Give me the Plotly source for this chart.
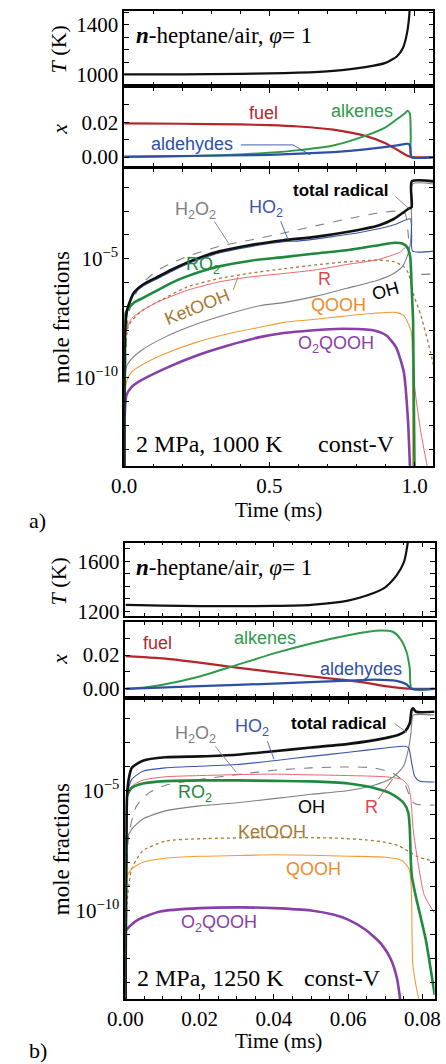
import plotly.graph_objects as go

W, H = 446, 1064

# ================= DATA =================
# ---- Panel a : 2 MPa, 1000 K ----
a_T_t = [0, 0.2, 0.4, 0.5, 0.6, 0.72, 0.83, 0.9, 0.94, 0.96, 0.974, 0.983, 0.99, 1.065]
a_T = [1000, 1001, 1004, 1008, 1014, 1029, 1059, 1093, 1147, 1213, 1333, 1512, 2400, 2700]

a_fuel_t = [0, 0.2, 0.4, 0.5, 0.6, 0.72, 0.83, 0.9, 0.94, 0.97, 0.99, 1.065]
a_fuel = [0.0194, 0.0192, 0.0188, 0.0184, 0.0176, 0.0158, 0.0122, 0.0080, 0.0042, 0.0012, 0.0, 0.0]
a_alk_t = [0, 0.1, 0.2, 0.33, 0.5, 0.6, 0.72, 0.83, 0.9, 0.94, 0.97, 0.976, 0.984, 0.987, 0.99, 1.065]
a_alk = [0, 0.0002, 0.0005, 0.001, 0.0025, 0.0040, 0.0067, 0.0122, 0.0171, 0.0219, 0.0257, 0.0267, 0.025, 0.012, 0.0, 0.0]
a_ald_t = [0, 0.2, 0.5, 0.72, 0.83, 0.94, 0.97, 0.98, 0.985, 0.99, 1.065]
a_ald = [0.0002, 0.0006, 0.0013, 0.0029, 0.0044, 0.0067, 0.0076, 0.0076, 0.006, 0.0, 0.0]

# log10 of mole fraction
a_tot_t = [0, 0.003, 0.011, 0.033, 0.065, 0.109, 0.163, 0.218, 0.272, 0.327, 0.436, 0.549, 0.658, 0.767, 0.876, 0.93, 0.963, 0.979, 0.99, 0.9905, 1.065]
a_tot = [-14, -8.0, -7.1, -6.43, -6.08, -5.8, -5.46, -5.15, -4.9, -4.69, -4.42, -4.22, -4.08, -3.875, -3.6, -3.32, -3.04, -2.9, -2.83, -1.75, -1.75]
a_ho2_t = [0, 0.003, 0.011, 0.033, 0.065, 0.109, 0.163, 0.218, 0.272, 0.327, 0.436, 0.549, 0.603, 0.712, 0.821, 0.93, 0.985, 0.99, 0.993, 1.065]
a_ho2 = [-14, -8.2, -7.2, -6.5, -6.15, -5.87, -5.53, -5.22, -4.97, -4.76, -4.49, -4.28, -4.25, -4.08, -3.875, -3.57, -3.32, -4.0, -4.68, -4.68]
a_h2o2_t = [0, 0.006, 0.011, 0.022, 0.054, 0.109, 0.163, 0.218, 0.327, 0.436, 0.549, 0.658, 0.767, 0.876, 0.952, 0.968, 0.979, 0.985, 0.99, 1.065]
a_h2o2 = [-14, -9.0, -7.7, -6.98, -6.15, -5.53, -5.18, -4.9, -4.48, -4.21, -3.92, -3.62, -3.33, -3.08, -3.0, -3.11, -4.08, -5.19, -5.61, -5.64]
a_ro2_t = [0, 0.003, 0.005, 0.033, 0.065, 0.109, 0.163, 0.218, 0.272, 0.327, 0.436, 0.549, 0.658, 0.767, 0.876, 0.93, 0.958, 0.974, 0.985, 0.99, 0.995, 1.0]
a_ro2 = [-14, -8.0, -7.26, -6.85, -6.64, -6.36, -6.01, -5.73, -5.5, -5.32, -5.08, -4.93, -4.78, -4.64, -4.43, -4.33, -4.36, -4.5, -4.92, -6.2, -7.6, -14]
a_r_t = [0, 0.0076, 0.026, 0.059, 0.109, 0.218, 0.327, 0.436, 0.549, 0.658, 0.767, 0.876, 0.952, 0.968, 0.979, 0.985, 0.99, 1.0, 1.022, 1.045]
a_r = [-14, -8.0, -7.5, -7.2, -6.85, -6.32, -5.97, -5.76, -5.62, -5.47, -5.24, -5.03, -4.71, -4.53, -4.64, -5.0, -6.0, -10.3, -12.3, -13.8]
a_ket_t = [0, 0.004, 0.015, 0.059, 0.14, 0.218, 0.327, 0.436, 0.549, 0.658, 0.767, 0.876, 0.93, 0.963, 0.979, 0.995, 1.022, 1.055, 1.065]
a_ket = [-14, -9.0, -7.8, -7.2, -6.65, -6.18, -5.83, -5.6, -5.42, -5.26, -5.125, -5.06, -5.125, -5.33, -5.61, -6.44, -7.39, -8.92, -9.47]
a_oh_t = [0, 0.0076, 0.026, 0.059, 0.14, 0.25, 0.358, 0.467, 0.549, 0.658, 0.767, 0.876, 0.93, 0.958, 0.974, 0.985, 0.99, 0.994, 1.065]
a_oh = [-14, -9.54, -9.19, -8.85, -8.29, -7.74, -7.32, -6.97, -6.84, -6.58, -6.24, -5.89, -5.61, -5.33, -4.92, -4.43, -3.53, -1.86, -1.86]
a_qooh_t = [0, 0.0076, 0.026, 0.059, 0.14, 0.25, 0.358, 0.467, 0.549, 0.642, 0.75, 0.86, 0.936, 0.963, 0.979, 0.989, 0.993]
a_qooh = [-14, -10.17, -9.75, -9.47, -8.99, -8.5, -8.15, -7.875, -7.67, -7.56, -7.42, -7.29, -7.25, -7.39, -7.74, -8.08, -14]
a_o2q_t = [0, 0.0076, 0.026, 0.059, 0.14, 0.25, 0.358, 0.467, 0.549, 0.642, 0.75, 0.86, 0.903, 0.936, 0.963, 0.977, 0.985]
a_o2q = [-14, -10.72, -10.375, -10.1, -9.61, -9.06, -8.64, -8.29, -8.12, -8.01, -7.94, -8.01, -8.22, -8.71, -9.75, -11.7, -14]

# ---- Panel b : 2 MPa, 1250 K ----
b_T_t = [0, 0.01, 0.02, 0.03, 0.04, 0.05, 0.06, 0.065, 0.07, 0.073, 0.075, 0.076, 0.0765, 0.078, 0.0833]
b_T = [1253, 1246, 1243, 1242, 1244, 1253, 1287, 1327, 1393, 1486, 1592, 1738, 1900, 2600, 2750]

b_fuel_t = [0, 0.005, 0.01, 0.02, 0.03, 0.04, 0.05, 0.06, 0.065, 0.07, 0.075, 0.078, 0.0833]
b_fuel = [0.0194, 0.0188, 0.0180, 0.0155, 0.0126, 0.0099, 0.0074, 0.0050, 0.0035, 0.0016, 0.0003, 0.0, 0.0]
b_alk_t = [0, 0.005, 0.01, 0.02, 0.03, 0.04, 0.05, 0.06, 0.065, 0.069, 0.072, 0.074, 0.0757, 0.0766, 0.0771, 0.0833]
b_alk = [0, 0.0008, 0.0024, 0.0073, 0.0141, 0.021, 0.0269, 0.0318, 0.0337, 0.0345, 0.0338, 0.0298, 0.022, 0.0122, 0.0, 0.0]
b_ald_t = [0, 0.02, 0.04, 0.06, 0.067, 0.073, 0.0757, 0.077, 0.0833]
b_ald = [0, 0.0016, 0.0031, 0.0049, 0.0055, 0.0047, 0.0027, 0.0, 0.0]

b_tot_t = [0, 0.00043, 0.00086, 0.0017, 0.0047, 0.0107, 0.02, 0.03, 0.04, 0.05, 0.0601, 0.07, 0.0736, 0.0753, 0.0766, 0.0771, 0.0775, 0.0783, 0.0833]
b_tot = [-14, -5.22, -4.53, -4.05, -3.75, -3.61, -3.57, -3.5, -3.36, -3.2, -3.05, -2.81, -2.67, -2.53, -2.19, -1.64, -1.57, -1.71, -1.71]
b_ho2_t = [0, 0.00043, 0.0017, 0.0047, 0.0107, 0.02, 0.03, 0.04, 0.05, 0.0601, 0.07, 0.0753, 0.0763, 0.0771, 0.0779, 0.0792, 0.0833]
b_ho2 = [-14, -5.3, -4.53, -4.19, -4.05, -3.98, -3.91, -3.75, -3.57, -3.40, -3.22, -3.15, -3.22, -3.84, -4.39, -4.6, -4.64]
b_r_t = [0, 0.00043, 0.0017, 0.0047, 0.0107, 0.02, 0.03, 0.04, 0.05, 0.0601, 0.07, 0.0745, 0.0762, 0.0769, 0.0775, 0.0788, 0.0805, 0.0833]
b_r = [-14, -5.22, -4.81, -4.56, -4.42, -4.37, -4.33, -4.31, -4.34, -4.37, -4.42, -4.53, -4.81, -5.36, -6.6, -7.98, -9.35, -10.1]
b_ro2_t = [0, 0.0003, 0.00043, 0.0017, 0.0047, 0.0107, 0.02, 0.03, 0.04, 0.05, 0.0601, 0.0668, 0.0719, 0.0749, 0.0762, 0.0766, 0.0769, 0.0772, 0.0783, 0.0809, 0.0833]
b_ro2 = [-14, -6.5, -5.22, -4.88, -4.7, -4.6, -4.57, -4.57, -4.59, -4.61, -4.7, -4.88, -5.15, -5.5, -5.91, -6.6, -7.98, -8.6, -9.45, -11.2, -13.5]
b_h2o2_t = [0, 0.00086, 0.003, 0.0064, 0.0107, 0.02, 0.03, 0.04, 0.05, 0.0601, 0.0668, 0.0719, 0.0749, 0.0762, 0.0771, 0.0783, 0.0833]
b_h2o2 = [-14, -6.87, -5.63, -5.08, -4.78, -4.53, -4.33, -4.15, -4.05, -4.01, -4.05, -4.26, -4.6, -5.08, -5.43, -5.56, -5.6]
b_oh_t = [0, 0.00026, 0.00043, 0.0017, 0.0047, 0.0107, 0.02, 0.03, 0.04, 0.05, 0.0601, 0.0668, 0.0719, 0.0749, 0.0762, 0.0769, 0.0772, 0.0775, 0.0833]
b_oh = [-14, -7.8, -7.01, -6.6, -6.18, -5.84, -5.63, -5.5, -5.33, -5.15, -4.99, -4.78, -4.46, -3.98, -3.29, -2.6, -2.05, -1.85, -1.85]
b_ket_t = [0, 0.00043, 0.0017, 0.0047, 0.0107, 0.02, 0.04, 0.056, 0.065, 0.07, 0.0736, 0.0762, 0.0788, 0.0833]
b_ket = [-14, -9.63, -8.25, -7.5, -7.1, -7.0, -6.95, -6.97, -7.05, -7.15, -7.29, -7.52, -7.75, -7.95]
b_qooh_t = [0, 0.00026, 0.0017, 0.0047, 0.0107, 0.02, 0.03, 0.04, 0.05, 0.0601, 0.07, 0.0745, 0.0764, 0.0770, 0.0774, 0.0785, 0.0795]
b_qooh = [-14, -8.66, -8.25, -7.98, -7.81, -7.73, -7.7, -7.67, -7.69, -7.73, -7.77, -7.91, -8.25, -9.0, -12.2, -13.3, -14]
b_o2q_t = [0, 0.00005, 0.00342, 0.00937, 0.02, 0.0307, 0.04, 0.05, 0.0562, 0.06, 0.0647, 0.069, 0.0715, 0.0732, 0.074]
b_o2q = [-14, -10.85, -10.37, -10.03, -9.89, -9.86, -9.89, -9.99, -10.17, -10.37, -10.79, -11.4, -12.02, -12.85, -13.68]

# axis tick labels
T_a_ticks = [1000, 1400]
T_b_ticks = [1200, 1600]
x_ticks = [0, 0.02]
log_label_ticks = [1e-10, 1e-5]
log_label_text = ["10<sup>\u221210</sup>", "10<sup>\u22125</sup>"]

# ================= STYLE / LAYOUT =================
C_BLACK = "#111111"
C_BLUE = "#3a55a8"
C_GREEN = "#1f8a3e"
C_RED = "#e8666e"
C_FUEL = "#b3262c"
C_ORANGE = "#f39a3c"
C_PURPLE = "#8a3fa8"
C_BROWN = "#a57a35"
C_GRAY = "#7f7f7f"
C_XGREEN = "#2f9a4a"
C_XBLUE = "#2d4fa6"

SERIF = "Liberation Serif"
SANS = "Liberation Sans"


def xp(p):
    return p / W


def yp(p):
    return 1 - p / H


fig = go.Figure()


def add(t, v, ax, color, width, dash="solid", log=False, shape="spline"):
    yv = [10 ** e for e in v] if log else v
    n = "" if ax == 1 else str(ax)
    fig.add_trace(go.Scatter(
        x=t, y=yv, mode="lines", xaxis="x" + n, yaxis="y" + n,
        line=dict(color=color, width=width, dash=dash, shape=shape, smoothing=0.6),
        hoverinfo="skip", showlegend=False))


# panel a
add(a_T_t, a_T, 1, C_BLACK, 2.2)
add(a_fuel_t, a_fuel, 2, C_FUEL, 2.2)
add(a_alk_t, a_alk, 2, C_XGREEN, 2.0)
add(a_ald_t, a_ald, 2, C_XBLUE, 2.2)
add(a_h2o2_t, a_h2o2, 3, C_GRAY, 1.1, "dash", True)
add(a_ket_t, a_ket, 3, C_BROWN, 1.3, "dot", True)
add(a_oh_t, a_oh, 3, C_GRAY, 1.1, "solid", True)
add(a_qooh_t, a_qooh, 3, C_ORANGE, 1.1, "solid", True)
add(a_r_t, a_r, 3, C_RED, 1.0, "solid", True)
add(a_ho2_t, a_ho2, 3, C_BLUE, 1.1, "solid", True)
add(a_o2q_t, a_o2q, 3, C_PURPLE, 2.6, "solid", True)
add(a_ro2_t, a_ro2, 3, C_GREEN, 2.6, "solid", True)
add(a_tot_t, a_tot, 3, C_BLACK, 2.6, "solid", True)

# panel b
add(b_T_t, b_T, 4, C_BLACK, 2.2)
add(b_fuel_t, b_fuel, 5, C_FUEL, 2.2)
add(b_alk_t, b_alk, 5, C_XGREEN, 2.0)
add(b_ald_t, b_ald, 5, C_XBLUE, 2.2)
add(b_h2o2_t, b_h2o2, 6, C_GRAY, 1.1, "dash", True)
add(b_ket_t, b_ket, 6, C_BROWN, 1.3, "dot", True)
add(b_oh_t, b_oh, 6, C_GRAY, 1.1, "solid", True)
add(b_qooh_t, b_qooh, 6, C_ORANGE, 1.1, "solid", True)
add(b_r_t, b_r, 6, C_RED, 1.0, "solid", True)
add(b_ho2_t, b_ho2, 6, C_BLUE, 1.1, "solid", True)
add(b_o2q_t, b_o2q, 6, C_PURPLE, 2.6, "solid", True)
add(b_ro2_t, b_ro2, 6, C_GREEN, 2.6, "solid", True)
add(b_tot_t, b_tot, 6, C_BLACK, 2.6, "solid", True)

tickfont = dict(family=SERIF, size=21, color="black")


def xaxis(dom, rng, showlabels, major, minor, fmt):
    return dict(domain=dom, range=rng, showline=True, linecolor="black", linewidth=1.6,
                mirror="allticks", ticks="inside", ticklen=5, tickwidth=1.2, tickcolor="black",
                dtick=major, tick0=0, tickformat=fmt, showticklabels=showlabels,
                ticklabelstandoff=0,
                tickfont=tickfont, showgrid=False, zeroline=False,
                minor=dict(ticks="inside", ticklen=3, tickwidth=1, tickcolor="black", dtick=minor, tick0=0,
                           showgrid=False))


def lin_y(dom, rng, vals, fmt, minor, anchor):
    return dict(domain=dom, range=rng, anchor=anchor, showline=True, linecolor="black", linewidth=1.6,
                mirror="allticks", ticks="inside", ticklen=5, tickwidth=1.2, tickcolor="black",
                tickvals=vals, tickformat=fmt, tickfont=tickfont, showgrid=False, zeroline=False,
                minor=dict(ticks="inside", ticklen=5, tickwidth=1.2, tickcolor="black", dtick=minor,
                           tick0=0, showgrid=False))


dec = [10.0 ** k for k in range(-13, -1)]


def log_y(dom, rng, anchor):
    return dict(domain=dom, range=rng, type="log", anchor=anchor, showline=True, linecolor="black",
                linewidth=1.6, mirror="allticks", ticks="inside", ticklen=5, tickwidth=1.2,
                tickcolor="black", tickmode="array", tickvals=log_label_ticks, ticktext=log_label_text,
                tickfont=tickfont, showgrid=False, zeroline=False,
                minor=dict(ticks="inside", ticklen=5, tickwidth=1.2, tickcolor="black",
                           tickmode="array", tickvals=dec, showgrid=False))


xa_dom = [xp(112), xp(438)]
xb_dom = [xp(113.3), xp(439.3)]

fig.update_layout(
    width=W, height=H, margin=dict(l=0, r=0, t=0, b=0),
    paper_bgcolor="white", plot_bgcolor="white", showlegend=False,
    xaxis=dict(xaxis(xa_dom, [0, 1.065], False, 0.5, 0.1, ".1f"), anchor="y"),
    xaxis2=dict(xaxis(xa_dom, [0, 1.065], False, 0.5, 0.1, ".1f"), anchor="y2"),
    xaxis3=dict(xaxis(xa_dom, [0, 1.065], True, 0.5, 0.1, ".1f"), anchor="y3"),
    xaxis4=dict(xaxis(xb_dom, [0, 0.0833], False, 0.02, 0.005, ".2f"), anchor="y4"),
    xaxis5=dict(xaxis(xb_dom, [0, 0.0833], False, 0.02, 0.005, ".2f"), anchor="y5"),
    xaxis6=dict(xaxis(xb_dom, [0, 0.0833], True, 0.02, 0.005, ".2f"), anchor="y6"),
    yaxis=lin_y([yp(85), yp(11)], [920, 1512], T_a_ticks, "d", 100, "x"),
    yaxis2=lin_y([yp(167), yp(89)], [-0.005, 0.0396], x_ticks, ".2f", 0.01, "x2"),
    yaxis3=log_y([yp(470), yp(170)], [-13.72, -1.22], "x3"),
    yaxis4=lin_y([yp(620.7), yp(546.7)], [1163, 1751], T_b_ticks, "d", 100, "x4"),
    yaxis5=lin_y([yp(701.7), yp(626.7)], [-0.0045, 0.0396], x_ticks, ".2f", 0.01, "x5"),
    yaxis6=log_y([yp(1006.7), yp(705)], [-13.68, -1.21], "x6"),
)

ann = []


def A(text, x, y, size=18, color="black", family=SANS, angle=0, xanchor="center", weight="normal",
      style="normal"):
    ann.append(dict(text=text, x=xp(x), y=yp(y), xref="paper", yref="paper", showarrow=False,
                    xanchor=xanchor, yanchor="middle", textangle=angle,
                    font=dict(family=family, size=size, color=color, weight=weight, style=style)))


shapes = []


def L(pts, color, width=0.9):
    path = "M " + " L ".join(f"{xp(a)},{yp(b)}" for a, b in pts)
    shapes.append(dict(type="path", path=path, xref="paper", yref="paper",
                       line=dict(color=color, width=width)))


title = "<b><i>n</i></b>-heptane/air, <i>\u03c6</i>= 1"
# ---- panel a texts ----
A(title, 122, 36, 23, family=SERIF, xanchor="left")
A("<i>T</i> (K)", 43, 50, 22, family=SERIF, angle=-90)
A("x", 43, 130, 22, family=SERIF, angle=-90, style="italic")
A("mole fractions", 46, 320, 23, family=SERIF, angle=-90)
A("Time (ms)", 275, 514, 21, family=SERIF)
A("a)", 9, 524, 22, family=SERIF, xanchor="left")
A("fuel", 259, 114, 18, C_FUEL)
A("alkenes", 363, 112, 18, C_XGREEN)
A("aldehydes", 183, 145, 18, C_XBLUE)
L([(235, 146), (290, 146), (308, 156)], C_XBLUE)
A("total radical", 340, 192, 17, "black", weight="bold")
L([(398, 198), (412, 210)], C_GRAY)
A("H<sub>2</sub>O<sub>2</sub>", 187, 212, 18, C_GRAY)
L([(207, 223), (222, 245)], C_GRAY)
A("HO<sub>2</sub>", 262, 210, 18, C_BLUE)
L([(277, 223), (285, 242)], C_BLUE)
A("RO<sub>2</sub>", 195, 268, 18, C_GREEN)
A("R", 323, 281, 18, "#e0474f")
A("KetOOH", 189, 309, 18, C_BROWN, angle=-22)
L([(227, 292), (232, 279)], C_BROWN)
A("OH", 387, 293, 18, "black", angle=-15)
A("QOOH", 338, 307, 18, "#f08a2c")
A("O<sub>2</sub>QOOH", 335, 347, 18, C_PURPLE)
A("2 MPa, 1000 K", 202, 447, 24, family=SERIF)
A("const-V", 357, 447, 24, family=SERIF)

# ---- panel b texts ----
A(title, 122, 572, 23, family=SERIF, xanchor="left")
A("<i>T</i> (K)", 43, 586, 22, family=SERIF, angle=-90)
A("x", 43, 664, 22, family=SERIF, angle=-90, style="italic")
A("mole fractions", 46, 856, 23, family=SERIF, angle=-90)
A("Time (ms)", 275, 1049, 21, family=SERIF)
A("b)", 9, 1058, 22, family=SERIF, xanchor="left")
A("fuel", 147, 648, 18, C_FUEL)
A("alkenes", 260, 643, 18, C_XGREEN)
A("aldehydes", 362, 674, 18, C_XBLUE)
A("total radical", 338, 729, 17, "black", weight="bold")
L([(397, 729), (410, 738)], C_GRAY)
A("H<sub>2</sub>O<sub>2</sub>", 187, 740, 18, C_GRAY)
L([(208, 752), (230, 778)], C_GRAY)
A("HO<sub>2</sub>", 247, 733, 18, C_BLUE)
L([(263, 747), (270, 765)], C_BLUE)
A("RO<sub>2</sub>", 187, 800, 18, C_GREEN)
A("OH", 309, 813, 18, "black")
A("R", 373, 813, 18, "#e0474f")
L([(380, 805), (395, 785)], "#e0474f")
A("KetOOH", 268, 838, 18, C_BROWN)
A("QOOH", 312, 876, 18, "#f08a2c")
A("O<sub>2</sub>QOOH", 212, 930, 18, C_PURPLE)
A("2 MPa, 1250 K", 203, 985, 24, family=SERIF)
A("const-V", 342, 985, 24, family=SERIF)

fig.update_layout(annotations=ann, shapes=shapes)
fig.write_html("out.html")
